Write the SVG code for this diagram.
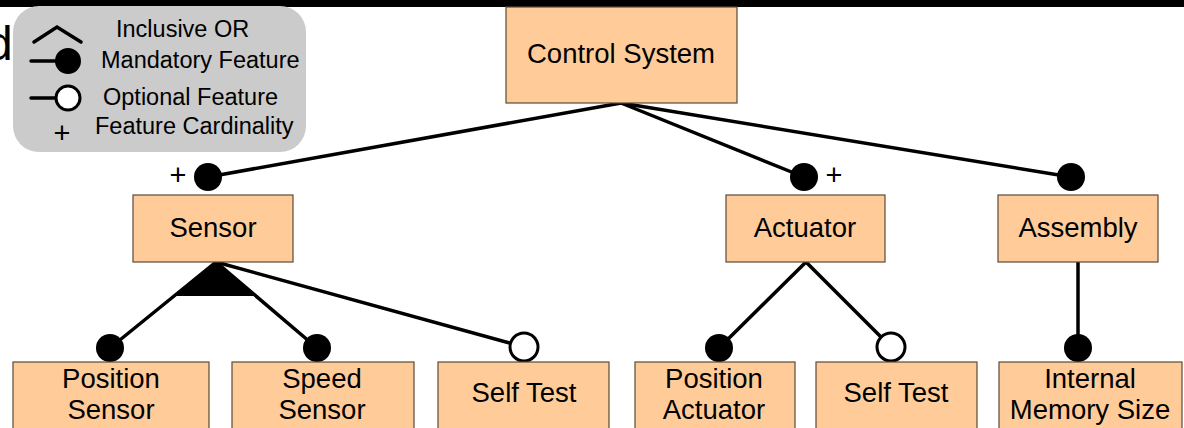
<svg xmlns="http://www.w3.org/2000/svg" width="1184" height="428" viewBox="0 0 1184 428">
  <style>
    .box { fill: #ffcc99; stroke: #5a4a3a; stroke-width: 1.2; }
    .lbl { font-family: "Liberation Sans", Arial, sans-serif; font-size: 27.5px; fill: #000; text-anchor: middle; }
    .leg { font-family: "Liberation Sans", Arial, sans-serif; font-size: 23.5px; fill: #000; }
    .edge { stroke: #000; stroke-width: 3.5; fill: none; stroke-linecap: round; }
    .mand { fill: #000; }
    .opt { fill: #fff; stroke: #000; stroke-width: 3; }
    .card { font-family: "Liberation Sans", Arial, sans-serif; font-size: 29px; fill: #000; text-anchor: middle; }
  </style>

  <rect x="0" y="0" width="1184" height="428" fill="#fff"/>
  <!-- heading rule and clipped title -->
  <rect x="0" y="0" width="1184" height="7" fill="#000"/>
  <text x="-14" y="60" font-family="Liberation Sans, Arial, sans-serif" font-size="48">d</text>

  <!-- legend -->
  <g id="legend">
    <rect x="13" y="6" width="293" height="146" rx="26" ry="26" fill="#cbcbcb"/>
    <polyline points="34,42 57,27 81,42" class="edge" stroke-linecap="butt"/>
    <text x="116" y="37" class="leg">Inclusive OR</text>
    <line x1="31" y1="61" x2="56" y2="61" class="edge" stroke-linecap="butt"/>
    <circle cx="68" cy="61" r="13" class="mand"/>
    <text x="101" y="68" class="leg">Mandatory Feature</text>
    <line x1="31" y1="98" x2="56" y2="98" class="edge" stroke-linecap="butt"/>
    <circle cx="68" cy="98" r="12" class="opt"/>
    <text x="103" y="105" class="leg">Optional Feature</text>
    <text x="62" y="143" class="card">+</text>
    <text x="95" y="134" class="leg">Feature Cardinality</text>
  </g>

  <!-- connectors -->
  <g id="connectors">
    <line x1="621" y1="103" x2="208" y2="177" class="edge"/>
    <line x1="621" y1="103" x2="804" y2="177" class="edge"/>
    <line x1="621" y1="103" x2="1071" y2="177" class="edge"/>
    <polygon points="216,262 175,296 257,296" fill="#000"/>
    <line x1="216" y1="262" x2="110" y2="348" class="edge"/>
    <line x1="216" y1="262" x2="317" y2="348" class="edge"/>
    <line x1="216" y1="262" x2="524" y2="347" class="edge"/>
    <line x1="806" y1="262" x2="719" y2="348" class="edge"/>
    <line x1="806" y1="262" x2="891" y2="347" class="edge"/>
    <line x1="1078" y1="262" x2="1078" y2="348" class="edge"/>
    <!-- end decorations -->
    <circle cx="208" cy="177" r="14" class="mand"/>
    <text x="178" y="185" class="card">+</text>
    <circle cx="804" cy="177" r="14" class="mand"/>
    <text x="834" y="185" class="card">+</text>
    <circle cx="1071" cy="177" r="14" class="mand"/>
    <circle cx="110" cy="348" r="14" class="mand"/>
    <circle cx="317" cy="348" r="14" class="mand"/>
    <circle cx="524" cy="347" r="14" class="opt"/>
    <circle cx="719" cy="348" r="14" class="mand"/>
    <circle cx="891" cy="347" r="14" class="opt"/>
    <circle cx="1078" cy="348" r="14" class="mand"/>
  </g>

  <!-- features -->
  <g id="control-system">
    <rect x="506" y="7" width="231" height="96" class="box"/>
    <text x="621" y="63" class="lbl">Control System</text>
  </g>
  <g id="sensor">
    <rect x="133" y="195" width="160" height="67" class="box"/>
    <text x="213" y="237" class="lbl">Sensor</text>
  </g>
  <g id="actuator">
    <rect x="726" y="195" width="159" height="67" class="box"/>
    <text x="805" y="237" class="lbl">Actuator</text>
  </g>
  <g id="assembly">
    <rect x="998" y="195" width="160" height="67" class="box"/>
    <text x="1078" y="237" class="lbl">Assembly</text>
  </g>
  <g id="position-sensor">
    <rect x="13" y="362" width="196" height="80" class="box"/>
    <text x="111" y="388" class="lbl">Position</text>
    <text x="111" y="419" class="lbl">Sensor</text>
  </g>
  <g id="speed-sensor">
    <rect x="232" y="362" width="182" height="80" class="box"/>
    <text x="322" y="388" class="lbl">Speed</text>
    <text x="322" y="419" class="lbl">Sensor</text>
  </g>
  <g id="sensor-self-test">
    <rect x="438" y="362" width="171" height="80" class="box"/>
    <text x="524" y="402" class="lbl">Self Test</text>
  </g>
  <g id="position-actuator">
    <rect x="635" y="362" width="160" height="80" class="box"/>
    <text x="714" y="388" class="lbl">Position</text>
    <text x="714" y="419" class="lbl">Actuator</text>
  </g>
  <g id="actuator-self-test">
    <rect x="816" y="362" width="161" height="80" class="box"/>
    <text x="896" y="402" class="lbl">Self Test</text>
  </g>
  <g id="internal-memory-size">
    <rect x="999" y="362" width="183" height="80" class="box"/>
    <text x="1090" y="388" class="lbl">Internal</text>
    <text x="1090" y="419" class="lbl">Memory Size</text>
  </g>
</svg>
